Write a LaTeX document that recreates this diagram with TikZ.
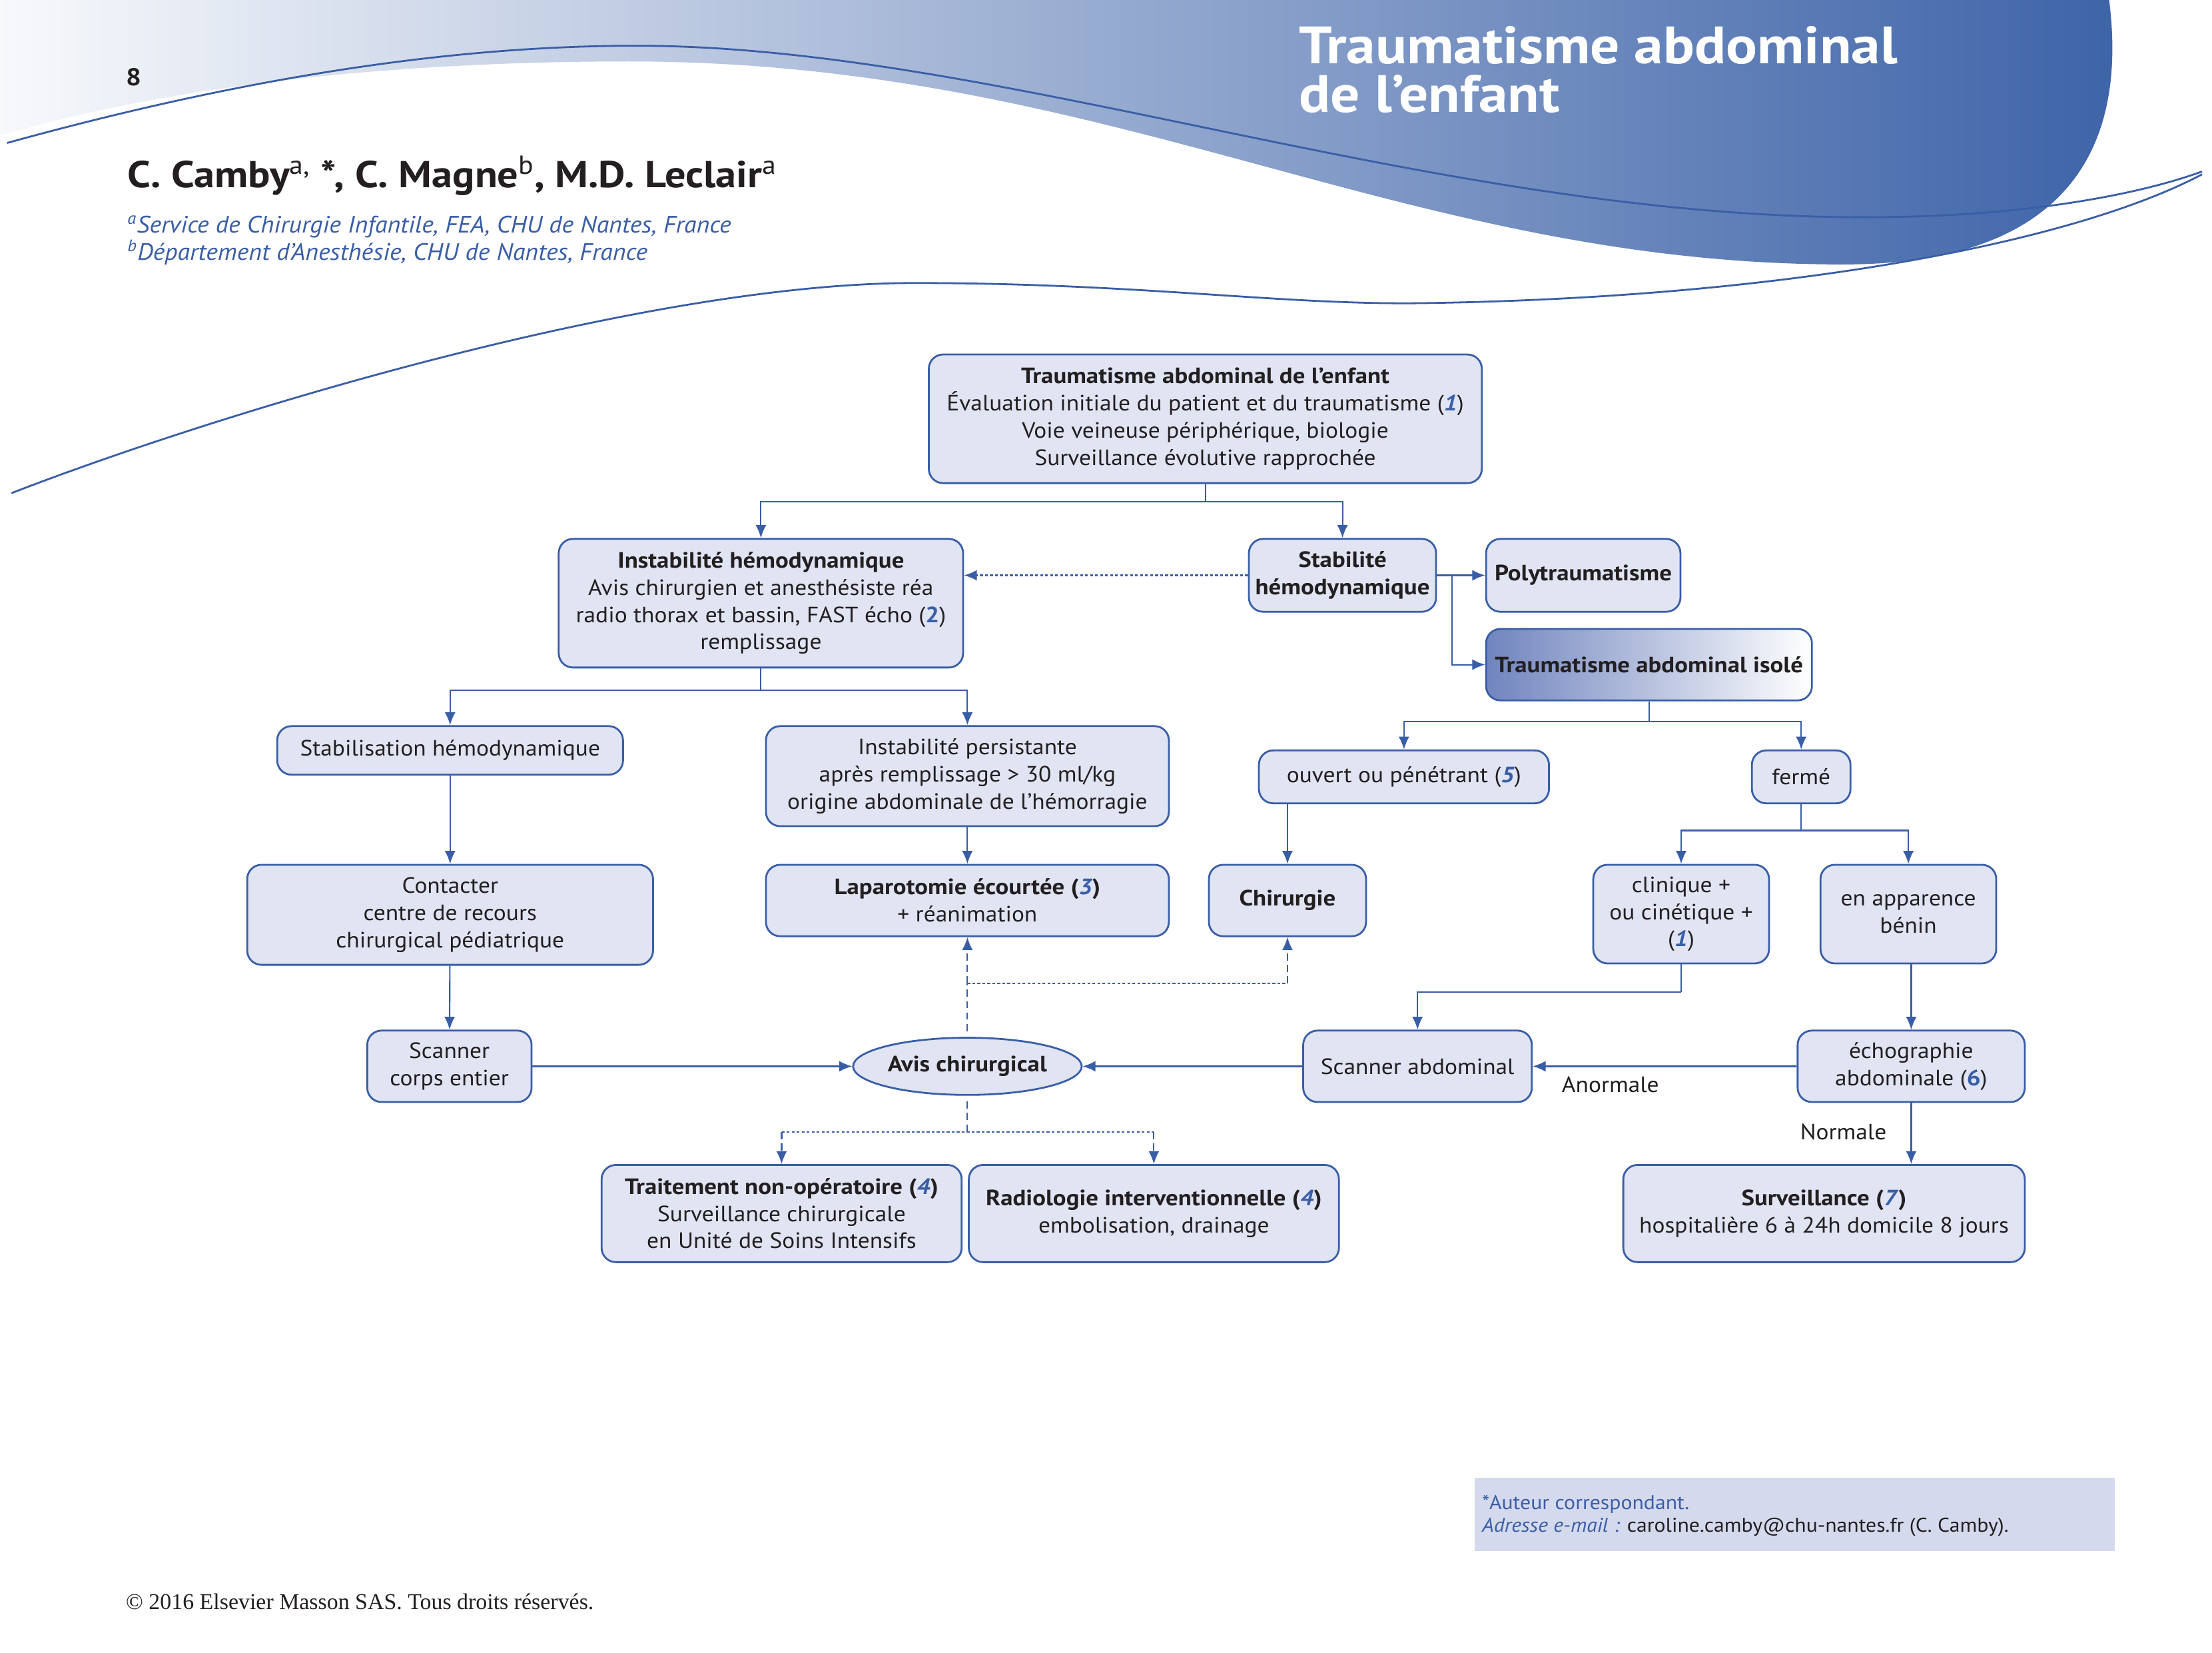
\documentclass[tikz,border=0pt]{standalone}
\usepackage{fontspec}
\setmainfont{PT Sans}[UprightFeatures={FakeStretch=1.065},BoldFeatures={FakeStretch=1.108},ItalicFeatures={FakeStretch=1.065},BoldItalicFeatures={FakeStretch=1.108}]
\newfontfamily\seriffam{Liberation Serif}
\usetikzlibrary{arrows.meta,shapes.geometric,calc}
\definecolor{bord}{HTML}{3A5EA6}
\definecolor{boxf}{HTML}{E0E4F3}
\definecolor{txt}{HTML}{231F20}
\definecolor{hblue}{HTML}{3D63A8}
\definecolor{foot}{HTML}{D4D9ED}
\definecolor{isol}{HTML}{7084BE}
\newcommand{\bn}[1]{{\color{bord}\textbf{\textit{#1}}}}
\newcommand{\bu}[1]{{\color{bord}\textbf{#1}}}
\begin{document}
\begin{tikzpicture}[x=1pt,y=-1pt,
  bx/.style={draw=bord,fill=boxf,line width=1.3pt,rounded corners=10pt,inner sep=0pt,align=center,text=txt,font=\fontsize{15.5}{19}\selectfont},
  arr/.style={draw=bord,line width=1pt,-{Latex[length=9pt,width=7.5pt]}},
  ln/.style={draw=bord,line width=1pt},
  dsh/.style={dash pattern=on 5pt off 3pt},
  dtt/.style={dash pattern=on 2pt off 1.5pt},
  lbl/.style={text=txt,font=\fontsize{15.5}{19}\selectfont,inner sep=0pt}]
\useasboundingbox (0,0) rectangle (1548,1156);
\fill[white] (0,0) rectangle (1548,1156);
% header
\shade[left color=white!96!hblue,right color=hblue] (0,0) -- (1476,0) .. controls (1490,110) and (1440,185) .. (1290,185) .. controls (980,185) and (780,43) .. (440,43) .. controls (250,43) and (100,65) .. (0,95) -- cycle;
\draw[bord,line width=1.3pt] (5,100) .. controls (150,60) and (300,32) .. (445,32) .. controls (700,32) and (1000,152) .. (1305,152) .. controls (1420,152) and (1500,135) .. (1541,120);
\draw[bord,line width=1.3pt] (8,345) .. controls (150,290) and (450,198) .. (640,198) .. controls (800,198) and (900,214) .. (1000,212) .. controls (1250,208) and (1450,170) .. (1541,122);
\node[anchor=north west,inner sep=0pt,align=left,text=white,font=\fontsize{36.8}{34}\selectfont\bfseries] (title) at (909,18) {Traumatisme abdominal\\de l’enfant};
\node[anchor=base west,inner sep=0pt,text=txt,font=\fontsize{17}{17}\selectfont\bfseries] (pg) at (88,60) {8};
\node[anchor=base west,inner sep=0pt,text=txt,font=\fontsize{26.2}{27}\selectfont\bfseries] (auth) at (89,131) {C. Camby\textsuperscript{\mdseries a,} *, C. Magne\textsuperscript{\mdseries b}, M.D. Leclair\textsuperscript{\mdseries a}};
\node[anchor=base west,inner sep=0pt,text=bord,font=\fontsize{16.6}{16.6}\selectfont\itshape] (af1) at (89,163) {\textsuperscript{a}Service de Chirurgie Infantile, FEA, CHU de Nantes, France};
\node[anchor=base west,inner sep=0pt,text=bord,font=\fontsize{16.6}{16.6}\selectfont\itshape] (af2) at (89,182) {\textsuperscript{b}Département d’Anesthésie, CHU de Nantes, France};
% footer
\fill[foot] (1032,1034) rectangle (1480,1085);
\node[anchor=base west,inner sep=0pt,text=bord,font=\fontsize{13.9}{13.9}\selectfont] (f1) at (1037,1056) {*Auteur correspondant.};
\node[anchor=base west,inner sep=0pt,text=txt,font=\fontsize{13.9}{13.9}\selectfont] (f2) at (1037,1072) {{\color{bord}\itshape Adresse e-mail :} caroline.camby@chu-nantes.fr (C. Camby).};
\node[anchor=base west,inner sep=0pt,text=txt,font=\fontsize{15.8}{15.8}\selectfont\seriffam] (cp) at (88,1126) {© 2016 Elsevier Masson SAS. Tous droits réservés.};
% nodes
\node[bx,minimum width=387pt,minimum height=90pt] (top) at (843.5,293) {\textbf{Traumatisme abdominal de l’enfant}\\Évaluation initiale du patient et du traumatisme (\bn{1})\\Voie veineuse périphérique, biologie\\Surveillance évolutive rapprochée};
\node[bx,minimum width=283pt,minimum height=90pt] (instab) at (532.5,422) {\textbf{Instabilité hémodynamique}\\Avis chirurgien et anesthésiste réa\\radio thorax et bassin, FAST écho (\bu{2})\\remplissage};
\node[bx,minimum width=131pt,minimum height=51pt] (stab) at (939.5,402.5) {\textbf{Stabilité}\\\textbf{hémodynamique}};
\node[bx,minimum width=136pt,minimum height=51pt] (poly) at (1108,402.5) {\textbf{Polytraumatisme}};
\node[bx,minimum width=228pt,minimum height=50pt,left color=isol,right color=white] (isole) at (1154,465) {\textbf{Traumatisme abdominal isolé}};
\node[bx,minimum width=242pt,minimum height=34pt] (stabil) at (315,525) {Stabilisation hémodynamique};
\node[bx,minimum width=282pt,minimum height=70pt] (persist) at (677,543) {Instabilité persistante\\après remplissage > 30 ml/kg\\origine abdominale de l’hémorragie};
\node[bx,minimum width=203pt,minimum height=37pt] (ouvert) at (982.5,543.5) {ouvert ou pénétrant (\bn{5})};
\node[bx,minimum width=69pt,minimum height=37pt] (ferme) at (1260.5,543.5) {fermé};
\node[bx,minimum width=284pt,minimum height=70pt] (contact) at (315,640) {Contacter\\centre de recours\\chirurgical pédiatrique};
\node[bx,minimum width=282pt,minimum height=50pt] (lapar) at (677,630) {\textbf{Laparotomie écourtée (\bn{3})}\\+ réanimation};
\node[bx,minimum width=110pt,minimum height=50pt] (chir) at (901,630) {\textbf{Chirurgie}};
\node[bx,minimum width=123pt,minimum height=69pt] (clin) at (1176.5,639.5) {clinique +\\ou cinétique +\\(\bn{1})};
\node[bx,minimum width=123pt,minimum height=69pt] (appar) at (1335.5,639.5) {en apparence\\bénin};
\node[bx,minimum width=115pt,minimum height=50pt] (scorps) at (314.5,746) {Scanner\\corps entier};
\node[bx,ellipse,minimum width=160pt,minimum height=40pt] (avis) at (677,746) {\textbf{Avis chirurgical}};
\node[bx,minimum width=160pt,minimum height=50pt] (sabd) at (992,746) {Scanner abdominal};
\node[bx,minimum width=159pt,minimum height=50pt] (echo) at (1337.5,746) {échographie\\abdominale (\bu{6})};
\node[bx,minimum width=252pt,minimum height=68pt] (trait) at (547,849) {\textbf{Traitement non-opératoire (\bn{4})}\\Surveillance chirurgicale\\en Unité de Soins Intensifs};
\node[bx,minimum width=259pt,minimum height=68pt] (radio) at (807.5,849) {\textbf{Radiologie interventionnelle (\bn{4})}\\embolisation, drainage};
\node[bx,minimum width=281pt,minimum height=68pt] (surv) at (1276.5,849) {\textbf{Surveillance (\bn{7})}\\hospitalière 6 à 24h domicile 8 jours};
\node[lbl] (anorm) at (1127,759) {Anormale};
\node[lbl] (norm) at (1290,792) {Normale};
% junctions
\coordinate (j1) at (843.5,351);
\coordinate (j2) at (532.5,483);
\coordinate (j3) at (1016,402.5);
\coordinate (j4) at (1154,505);
\coordinate (j5) at (1260.5,581);
\coordinate (j6) at (1176.5,694);
\coordinate (j7) at (677,688);
\coordinate (j8) at (677,792);
% connectors
\draw[ln] (top) -- (j1);
\draw[arr] (j1) -| (instab);
\draw[arr] (j1) -| (stab);
\draw[arr,dtt] (stab.west) -- (stab.west -| instab.east);
\draw[arr] (stab) -- (poly);
\draw[arr] (j3) |- (isole);
\draw[ln] (instab) -- (j2);
\draw[arr] (j2) -| (stabil);
\draw[arr] (j2) -| (persist);
\draw[ln] (isole) -- (j4);
\draw[arr] (j4) -| (ouvert);
\draw[arr] (j4) -| (ferme);
\draw[arr] (persist) -- (lapar);
\draw[arr] (chir.north |- ouvert.south) -- (chir);
\draw[ln] (ferme) -- (j5);
\draw[arr] (j5) -| (clin);
\draw[arr] (j5) -| (appar);
\draw[arr] (stabil) -- (contact);
\draw[arr] (contact) -- (scorps);
\draw[ln] (clin) -- (j6);
\draw[arr] (j6) -| (sabd);
\draw[arr] (appar.south -| echo.north) -- (echo);
\draw[arr] (scorps) -- (avis);
\draw[arr] (sabd) -- (avis);
\draw[arr] (echo) -- (sabd);
\draw[arr] (echo.south) -- (echo.south |- surv.north);
\draw[ln,dsh] ($(avis.north)+(0,-4)$) -- (j7);
\draw[arr,dsh] (j7) -- (lapar);
\draw[ln,dtt] (j7) -- (j7 -| chir);
\draw[arr,dsh] (j7 -| chir) -- (chir);
\draw[ln,dsh] ($(avis.south)+(0,4)$) -- (j8);
\draw[ln,dtt] (j8 -| trait) -- (j8 -| radio);
\draw[arr,dsh] (j8 -| trait) -- (trait);
\draw[arr,dsh] (j8 -| radio) -- (radio);
\end{tikzpicture}
\end{document}
